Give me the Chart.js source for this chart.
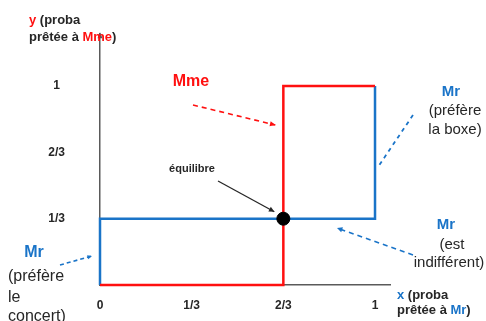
<!DOCTYPE html>
<html>
<head>
<meta charset="utf-8">
<script src="https://cdn.jsdelivr.net/npm/chart.js@4/dist/chart.umd.min.js"></script>
<style>
  html, body { margin: 0; padding: 0; background: #fff; }
  #wrap { width: 486px; height: 321px; }
</style>
</head>
<body>
<div id="wrap"><canvas id="chart" width="486" height="321"></canvas></div>
<script>
// Best responses (x = proba prêtée à Mr, y = proba prêtée à Mme)
const mmeX = [0, 2/3, 2/3, 1];
const mmeY = [0, 0, 1, 1];
const mrX = [0, 0, 1, 1];
const mrY = [0, 1/3, 1/3, 1];
const eqX = [2/3];
const eqY = [1/3];

// Tick values and labels
const xTicks = [0, 1/3, 2/3, 1];
const xTickLabels = ['0', '1/3', '2/3', '1'];
const yTicks = [1/3, 2/3, 1];
const yTickLabels = ['1/3', '2/3', '1'];

const RED = '#ff1010';
const BLUE = '#1a74c8';
const DARK = '#262626';
const AXIS = '#5a5a5a';
const FONT = '"Liberation Sans", Arial, sans-serif';

function toPoints(xs, ys) {
    return xs.map((x, i) => ({ x: x, y: ys[i] }));
}

function tickLabel(values, labels) {
    return function (v) {
        const i = values.findIndex(t => Math.abs(t - v) < 1e-6);
        return i >= 0 ? labels[i] : '';
    };
}

function drawArrow(ctx, x1, y1, x2, y2, color, width, dash, head) {
    ctx.save();
    ctx.strokeStyle = color;
    ctx.fillStyle = color;
    ctx.lineWidth = width;
    ctx.setLineDash(dash || []);
    ctx.beginPath();
    ctx.moveTo(x1, y1);
    ctx.lineTo(x2, y2);
    ctx.stroke();
    if (head) {
        const a = Math.atan2(y2 - y1, x2 - x1);
        ctx.setLineDash([]);
        ctx.beginPath();
        ctx.moveTo(x2, y2);
        ctx.lineTo(x2 - head * Math.cos(a - 0.45), y2 - head * Math.sin(a - 0.45));
        ctx.lineTo(x2 - head * Math.cos(a + 0.45), y2 - head * Math.sin(a + 0.45));
        ctx.closePath();
        ctx.fill();
    }
    ctx.restore();
}

// Draw a line made of coloured pieces, starting at x
function drawRich(ctx, x, y, parts, font) {
    ctx.font = font;
    ctx.textAlign = 'left';
    ctx.textBaseline = 'middle';
    parts.forEach(p => {
        ctx.fillStyle = p[1];
        ctx.fillText(p[0], x, y);
        x += ctx.measureText(p[0]).width;
    });
}

function drawText(ctx, text, x, y, font, color, align) {
    ctx.font = font;
    ctx.fillStyle = color;
    ctx.textAlign = align || 'center';
    ctx.textBaseline = 'middle';
    ctx.fillText(text, x, y);
}

// Axis arrow, axis titles and annotations
const annotations = {
    id: 'annotations',
    afterDraw(chart) {
        const ctx = chart.ctx;
        const area = chart.chartArea;
        const xs = chart.scales.x;
        const ys = chart.scales.y;

        // y axis arrow head
        ctx.save();
        ctx.fillStyle = AXIS;
        ctx.beginPath();
        ctx.moveTo(area.left, area.top - 2);
        ctx.lineTo(area.left - 2.5, area.top + 4);
        ctx.lineTo(area.left + 2.5, area.top + 4);
        ctx.closePath();
        ctx.fill();
        ctx.restore();

        const bold13 = 'bold 13px ' + FONT;
        drawRich(ctx, 29, 20, [['y', RED], [' (proba', DARK]], bold13);
        drawRich(ctx, 29, 37, [['prêtée à ', DARK], ['Mme', RED], [')', DARK]], bold13);
        drawRich(ctx, 397, 295, [['x', BLUE], [' (proba', DARK]], bold13);
        drawRich(ctx, 397, 310, [['prêtée à ', DARK], ['Mr', BLUE], [')', DARK]], bold13);

        // Mme
        drawText(ctx, 'Mme', 191, 82, 'bold 16px ' + FONT, RED);
        const px = xs.getPixelForValue(eqX[0]);
        const py = ys.getPixelForValue(eqY[0]);
        drawArrow(ctx, 193, 105, px - 8, 125, RED, 1.6, [5, 4], 6);

        // équilibre
        drawText(ctx, 'équilibre', 192, 169, 'bold 11px ' + FONT, DARK);
        drawArrow(ctx, 218, 181, px - 9, py - 7, DARK, 1.3, null, 6);

        // Mr (préfère la boxe)
        const reg15 = '15px ' + FONT;
        drawText(ctx, 'Mr', 451, 92, 'bold 15px ' + FONT, BLUE);
        drawText(ctx, '(préfère', 455, 111, reg15, DARK);
        drawText(ctx, 'la boxe)', 455, 130, reg15, DARK);
        drawArrow(ctx, 413, 115, 378, 167, BLUE, 1.8, [4, 4], 0);

        // Mr (est indifférent)
        drawText(ctx, 'Mr', 446, 225, 'bold 15px ' + FONT, BLUE);
        drawText(ctx, '(est', 452, 245, reg15, DARK);
        drawText(ctx, 'indifférent)', 449, 263, reg15, DARK);
        drawArrow(ctx, 413, 255, 337, 228, BLUE, 1.6, [5, 4], 6);

        // Mr (préfère le concert)
        const reg16 = '16px ' + FONT;
        drawText(ctx, 'Mr', 34, 253, 'bold 16px ' + FONT, BLUE);
        drawText(ctx, '(préfère', 8, 277, reg16, DARK, 'left');
        drawText(ctx, 'le', 8, 298, reg16, DARK, 'left');
        drawText(ctx, 'concert)', 8, 317, reg16, DARK, 'left');
        drawArrow(ctx, 60, 265, 92, 256, BLUE, 1.6, [4, 3], 5);
    }
};

new Chart(document.getElementById('chart'), {
    type: 'line',
    data: {
        datasets: [
            {
                label: 'équilibre',
                data: toPoints(eqX, eqY),
                showLine: false,
                pointRadius: 6.5,
                pointBackgroundColor: '#000',
                pointBorderColor: '#000',
                clip: false,
            },
            {
                label: 'Mme',
                data: toPoints(mmeX, mmeY),
                borderColor: RED,
                borderWidth: 2.5,
                pointRadius: 0,
                tension: 0,
                fill: false,
                clip: false,
            },
            {
                label: 'Mr',
                data: toPoints(mrX, mrY),
                borderColor: BLUE,
                borderWidth: 2.5,
                pointRadius: 0,
                tension: 0,
                fill: false,
                clip: false,
            },
        ]
    },
    options: {
        responsive: false,
        animation: false,
        layout: { padding: { top: 24, right: 96, left: 0, bottom: 0 } },
        plugins: {
            legend: { display: false },
            tooltip: { enabled: false },
        },
        scales: {
            x: {
                type: 'linear',
                min: 0,
                max: 1.0545,
                grid: { display: false },
                border: { color: AXIS, width: 1.5 },
                afterBuildTicks: s => { s.ticks = xTicks.map(v => ({ value: v })); },
                afterFit: s => { s.height = 36; },
                ticks: {
                    padding: 5,
                    color: DARK,
                    font: { family: FONT, size: 12, weight: 'bold' },
                    callback: tickLabel(xTicks, xTickLabels),
                    maxRotation: 0,
                    autoSkip: false,
                },
            },
            y: {
                type: 'linear',
                min: 0,
                max: 1.261,
                grid: { display: false },
                border: { color: AXIS, width: 1.5 },
                afterBuildTicks: s => { s.ticks = yTicks.map(v => ({ value: v })); },
                afterFit: s => { s.width = 100; },
                ticks: {
                    padding: 27,
                    crossAlign: 'center',
                    color: DARK,
                    font: { family: FONT, size: 12, weight: 'bold' },
                    callback: tickLabel(yTicks, yTickLabels),
                    autoSkip: false,
                },
            },
        },
    },
    plugins: [annotations],
});
</script>
</body>
</html>
